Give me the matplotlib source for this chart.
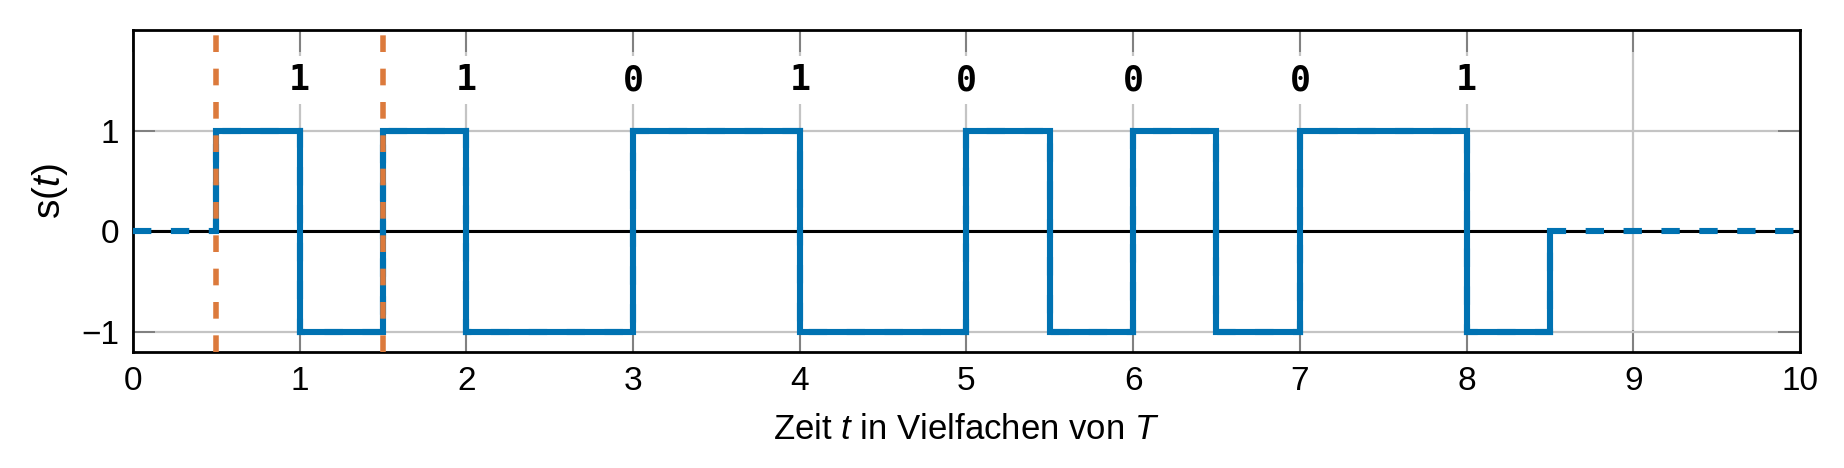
import numpy as np
import matplotlib
matplotlib.use("Agg")
import matplotlib.pyplot as plt

# Manchester-codiertes Signal: Stufenkanten und Pegel
t_edges = [0, 0.5, 1, 1.5, 2, 3, 4, 5, 5.5, 6, 6.5, 7, 8, 8.5, 10]
levels = [0, 1, -1, 1, -1, 1, -1, 1, -1, 1, -1, 1, -1, 0]
bit_pos = [1, 2, 3, 4, 5, 6, 7, 8]
bits = ['1', '1', '0', '1', '0', '0', '0', '1']
markers = [0.5, 1.5]
x_ticks = list(range(0, 11))
y_ticks = [-1, 0, 1]

blue = '#0072b2'
orange = '#dc7a3c'

plt.rcParams['font.family'] = ['Liberation Sans', 'DejaVu Sans']
plt.rcParams['mathtext.fontset'] = 'custom'
plt.rcParams['mathtext.rm'] = 'Liberation Sans'
plt.rcParams['mathtext.it'] = 'Liberation Sans:italic'

fig = plt.figure(figsize=(9.22, 2.34), dpi=200)
ax = fig.add_axes([0.0721, 0.248, 0.904, 0.688])

ax.axhline(0, color='black', lw=1.1, zorder=2)

# Ruhepegel gestrichelt, aktive Teile durchgezogen
ax.stairs(levels, t_edges, baseline=None, color=blue, lw=2.2,
          ls=(0, (3.0, 3.2)), zorder=3)
ax.stairs(levels[1:-1], t_edges[1:-1], baseline=0, color=blue, lw=2.2, zorder=4)

for m in markers:
    ax.axvline(m, color=orange, lw=2.0, ls=(0, (3.0, 3.0)), zorder=5)

for p, b in zip(bit_pos, bits):
    ax.text(p, 1.5, b, ha='center', va='center', fontsize=12.5,
            family='DejaVu Sans Mono', weight='bold', zorder=6,
            bbox=dict(facecolor='white', edgecolor='none', pad=2.5))

ax.set_xlim(0, 10)
ax.set_ylim(-1.2, 2)
ax.set_xticks(x_ticks)
ax.set_yticks(y_ticks)
ax.set_yticklabels(['\u22121', '0', '1'])
ax.grid(True, color='#c4c4c4', lw=0.8, zorder=0)
ax.set_axisbelow(True)
ax.tick_params(direction='in', length=8, width=0.7, color='#808080',
               top=True, right=True, labelsize=12, pad=5)
for s in ax.spines.values():
    s.set_linewidth(1.0)

ax.set_xlabel('Zeit $t$ in Vielfachen von $T$', fontsize=12.5, labelpad=6)
ax.set_ylabel('s($t$)', fontsize=14, labelpad=4)

fig.savefig('out.png', dpi=200)
